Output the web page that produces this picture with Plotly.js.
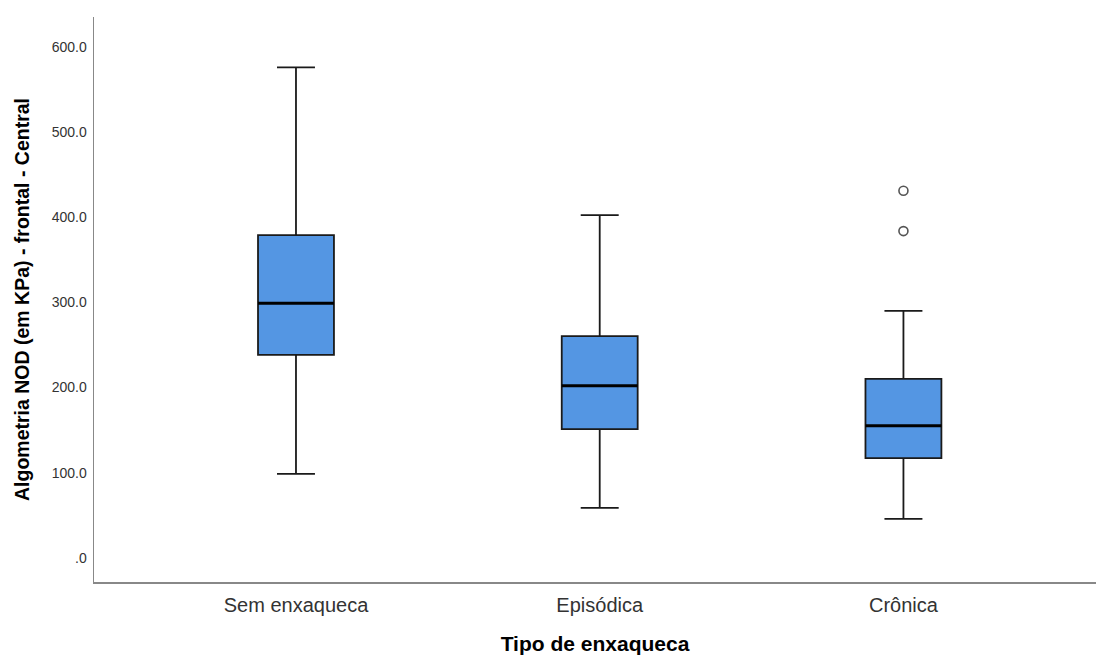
<!DOCTYPE html>
<html>
<head>
<meta charset="utf-8">
<script src="https://cdn.plot.ly/plotly-3.0.1.min.js"></script>
<style>html,body{margin:0;padding:0;background:#fff;}#chart{width:1096px;height:659px;}</style>
</head>
<body>
<div id="chart"></div>
<script>
const categories = ["Sem enxaqueca", "Episódica", "Crônica"];
const lowerWhisker = [98.5, 58.6, 45.6];
const q1 = [238.4, 151.1, 117.0];
const median = [299.2, 202.0, 155.0];
const q3 = [379.2, 260.4, 210.2];
const upperWhisker = [576.4, 402.7, 290.2];
const outlierCategory = ["Crônica", "Crônica"];
const outlierValue = [431.3, 383.9];
const yTickVals = [0, 100, 200, 300, 400, 500, 600];
const yTickText = [".0", "100.0", "200.0", "300.0", "400.0", "500.0", "600.0"];

const pos = categories.map((c, i) => i);
const boxWidth = 0.25;

const medX = [], medY = [];
pos.forEach((p, i) => {
  medX.push(p - boxWidth / 2, p + boxWidth / 2, null);
  medY.push(median[i], median[i], null);
});

const traces = [
  {
    type: "box",
    x: pos,
    q1: q1,
    median: median,
    q3: q3,
    lowerfence: lowerWhisker,
    upperfence: upperWhisker,
    width: boxWidth,
    whiskerwidth: 0.5,
    fillcolor: "rgb(84,150,227)",
    line: { color: "#1a1a1a", width: 1.8 },
    boxpoints: false,
    hoverinfo: "skip",
    showlegend: false
  },
  {
    type: "scatter",
    mode: "lines",
    x: medX,
    y: medY,
    line: { color: "#000", width: 3 },
    hoverinfo: "skip",
    showlegend: false
  },
  {
    type: "scatter",
    mode: "markers",
    x: outlierCategory.map(c => categories.indexOf(c)),
    y: outlierValue,
    marker: { symbol: "circle-open", size: 9, color: "#555", line: { width: 1.6, color: "#555" } },
    hoverinfo: "skip",
    showlegend: false
  }
];

const layout = {
  width: 1096,
  height: 659,
  margin: { l: 94, r: 0, t: 17, b: 77 },
  paper_bgcolor: "#fff",
  plot_bgcolor: "#fff",
  font: { family: "Liberation Sans, Arial, sans-serif", color: "#222" },
  xaxis: {
    range: [-0.665, 2.634],
    tickvals: pos,
    ticktext: categories,
    tickfont: { size: 20, color: "#333" },
    ticklabelstandoff: 4,
    showgrid: false,
    zeroline: false,
    showline: true,
    linecolor: "#888",
    linewidth: 1.5,
    ticks: "",
    title: { text: "Tipo de enxaqueca", font: { size: 21, color: "#000", weight: "bold" }, standoff: 22 }
  },
  yaxis: {
    range: [-28.5, 635.5],
    tickvals: yTickVals,
    ticktext: yTickText,
    tickfont: { size: 14, color: "#333" },
    ticklabelstandoff: 3,
    showgrid: false,
    zeroline: false,
    showline: true,
    linecolor: "#888",
    linewidth: 1.5,
    ticks: "",
    title: { text: "Algometria NOD (em KPa) - frontal - Central", font: { size: 19.5, color: "#000", weight: "bold" }, standoff: 17 }
  }
};

Plotly.newPlot("chart", traces, layout, { displayModeBar: false, staticPlot: true });
</script>
</body>
</html>
